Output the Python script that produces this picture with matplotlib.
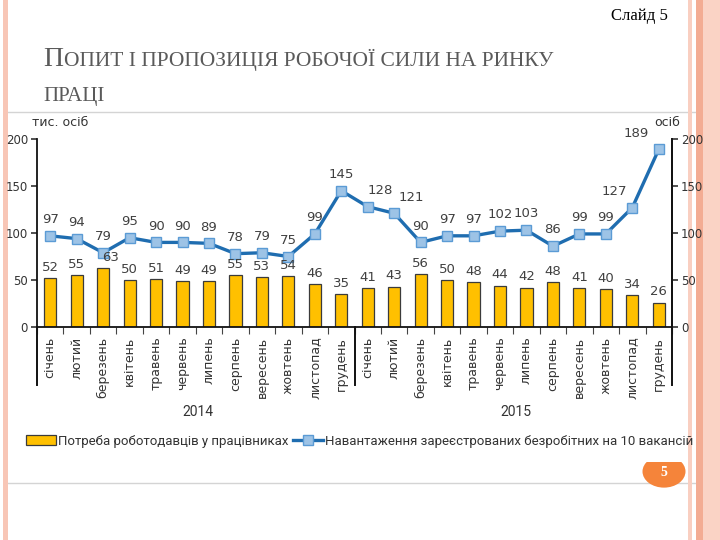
import numpy as np
import matplotlib
matplotlib.use("Agg")
import matplotlib.pyplot as plt
from matplotlib.patches import Rectangle, Circle
from matplotlib.transforms import blended_transform_factory

months = ['січень', 'лютий', 'березень', 'квітень', 'травень', 'червень',
          'липень', 'серпень', 'вересень', 'жовтень', 'листопад', 'грудень']
labels = months + months
years = ['2014', '2015']

demand = [52, 55, 63, 50, 51, 49, 49, 55, 53, 54, 46, 35,
          41, 43, 56, 50, 48, 44, 42, 48, 41, 40, 34, 26]
load = [97, 94, 79, 95, 90, 90, 89, 78, 79, 75, 99, 145,
        128, 121, 90, 97, 97, 102, 103, 86, 99, 99, 127, 189]

bar_name = 'Потреба роботодавців у працівниках'
line_name = 'Навантаження зареєстрованих безробітних на 10 вакансій'

W, H = 720, 540
fig = plt.figure(figsize=(7.2, 5.4), dpi=100)
fig.patch.set_facecolor('white')


def fx(px):
    return px / W


def fy(py):
    return 1 - py / H


def rect(x0, y0, x1, y1, **kw):
    r = Rectangle((fx(x0), fy(y1)), fx(x1) - fx(x0), fy(y0) - fy(y1),
                  transform=fig.transFigure, **kw)
    fig.add_artist(r)
    return r


# slide decoration (behind the chart)
rect(5, 112, 709, 483, facecolor='none', edgecolor='#d4d4d4', lw=1, zorder=-3)
rect(3, 0, 8, 540, facecolor='#F8C6B6', edgecolor='none', zorder=-2)
rect(688, 0, 692, 540, facecolor='#F9CFC1', edgecolor='none', zorder=-2)
rect(696, 0, 703, 540, facecolor='#F3AC93', edgecolor='none', zorder=-2)
rect(703, 0, 720, 540, facecolor='#FAD3C5', edgecolor='none', zorder=-2)

circ = Circle((fx(664), fy(471.5)), 21.5 / W, transform=fig.transFigure,
              facecolor='#F5843A', edgecolor='none', zorder=-1)
fig.add_artist(circ)
clip = Rectangle((fx(630), fy(500)), fx(70), fy(462) - fy(500),
                 transform=fig.transFigure, visible=False)
circ.set_clip_path(clip)
fig.text(fx(664), fy(473), '5', color='white', fontsize=10, fontweight='bold',
         family='Liberation Serif', ha='center', va='center')

fig.text(fx(668), fy(16), 'Слайд 5', fontsize=12, family='Liberation Serif',
         ha='right', va='center', color='black')

# title in small caps
t1 = fig.text(fx(43), fy(66), 'П', fontsize=20, family='Liberation Serif',
              color='#5a5a5a', ha='left', va='baseline')
fig.canvas.draw()
bb = t1.get_window_extent()
fig.text(bb.x1 / W + 0.001, fy(66), 'ОПИТ І ПРОПОЗИЦІЯ РОБОЧОЇ СИЛИ НА РИНКУ',
         fontsize=15.5, family='Liberation Serif', color='#5a5a5a',
         ha='left', va='baseline')
fig.text(fx(43), fy(101), 'ПРАЦІ', fontsize=15, family='Liberation Serif',
         color='#5a5a5a', ha='left', va='baseline')

# chart
ax = fig.add_axes([fx(37), fy(327), fx(672) - fx(37), fy(139) - fy(327)])
x = np.arange(len(labels))
bars = ax.bar(x, demand, width=0.46, color='#FFC000', edgecolor='#3b3b3b',
              linewidth=0.9, zorder=2, label=bar_name)
line, = ax.plot(x, load, color='#1F6DB0', lw=2.4, marker='s', markersize=6.5,
                markerfacecolor='#9DC3E6', markeredgecolor='#5B9BD5',
                markeredgewidth=1, zorder=3, label=line_name)

ax.set_xlim(-0.5, len(labels) - 0.5)
ax.set_ylim(0, 200)
ax.set_yticks([0, 50, 100, 150, 200])
ax.set_xticks(x)
ax.set_xticklabels(labels, rotation=90, fontsize=9, color='#333333')
ax.set_xticks(np.arange(-0.5, len(labels), 1), minor=True)
ax.tick_params(axis='x', which='major', length=0, pad=7)
ax.tick_params(axis='x', which='minor', length=5, width=0.8, color='#444444')
ax.tick_params(axis='y', labelsize=8.5, colors='#333333', length=4, width=1.2,
               direction='out', pad=2.5)
ax.spines['top'].set_visible(False)
for s in ['left', 'right', 'bottom']:
    ax.spines[s].set_linewidth(1.3)
    ax.spines[s].set_color('#111111')

ax2 = ax.twinx()
ax2.set_ylim(0, 200)
ax2.set_yticks([0, 50, 100, 150, 200])
ax2.tick_params(axis='y', labelsize=8.5, colors='#333333', length=4, width=1.2,
                direction='out', pad=2.5)
for s in ['top', 'left', 'bottom']:
    ax2.spines[s].set_visible(False)
ax2.spines['right'].set_linewidth(1.3)
ax2.spines['right'].set_color('#111111')

# separators between years
ax_h = 188
for xs in [-0.5, 11.5, len(labels) - 0.5]:
    ax.axvline(xs, ymin=-58 / ax_h, ymax=0, color='#111111', lw=1.4,
               clip_on=False)

tr = blended_transform_factory(ax.transData, ax.transAxes)
for i, yr in enumerate(years):
    ax.text(5.6 + 12 * i, -85 / ax_h, yr, transform=tr, ha='center',
            va='center', fontsize=10, color='#333333', family='Roboto')

# data labels
bar_dx = {2: 5}
line_dx = {12: 9, 13: 12, 22: -13, 23: -16}
for i, v in enumerate(demand):
    ax.annotate(str(v), (x[i], v), xytext=(bar_dx.get(i, 0), 3),
                textcoords='offset points', ha='center', va='bottom',
                fontsize=9.5, color='#404040', zorder=4)
for i, v in enumerate(load):
    ax.annotate(str(v), (x[i], v), xytext=(line_dx.get(i, 0), 7),
                textcoords='offset points', ha='center', va='bottom',
                fontsize=9.5, color='#404040', zorder=4)

ax.text(-5 / 635, (327 - 123) / ax_h, 'тис. осіб', transform=ax.transAxes,
        ha='left', va='center', fontsize=9, color='#333333')
ax.text(1 + 8 / 635, (327 - 122) / ax_h, 'осіб', transform=ax.transAxes,
        ha='right', va='center', fontsize=9, color='#333333')

leg = fig.legend(handles=[bars, line], loc='center left',
                 bbox_to_anchor=(fx(26), fy(441)), ncol=2, frameon=False,
                 handlelength=2.3, handleheight=0.7, handletextpad=0.15,
                 columnspacing=0.3, borderpad=0, borderaxespad=0,
                 prop={'family': 'Roboto', 'size': 9.5})
for t in leg.get_texts():
    t.set_color('#333333')

fig.savefig('out.png', dpi=100, facecolor='white')
